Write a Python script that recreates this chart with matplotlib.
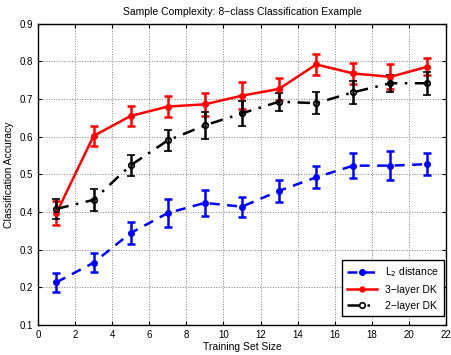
import numpy as np
import matplotlib
matplotlib.use("Agg")
import matplotlib.pyplot as plt
from matplotlib.lines import Line2D

train_size = [1, 3, 5, 7, 9, 11, 13, 15, 17, 19, 21]

l2_acc = [0.213, 0.265, 0.344, 0.397, 0.424, 0.414, 0.456, 0.492, 0.523, 0.523, 0.527]
l2_err = [0.026, 0.025, 0.028, 0.037, 0.035, 0.027, 0.030, 0.029, 0.033, 0.039, 0.029]

dk3_acc = [0.397, 0.602, 0.655, 0.680, 0.686, 0.709, 0.727, 0.792, 0.768, 0.759, 0.786]
dk3_err = [0.033, 0.026, 0.027, 0.027, 0.031, 0.035, 0.030, 0.029, 0.027, 0.033, 0.022]

dk2_acc = [0.408, 0.432, 0.524, 0.590, 0.630, 0.662, 0.693, 0.689, 0.718, 0.742, 0.742]
dk2_err = [0.027, 0.030, 0.028, 0.029, 0.035, 0.033, 0.024, 0.030, 0.030, 0.022, 0.031]

x_ticks = list(range(0, 23, 2))
y_ticks = [0.1, 0.2, 0.3, 0.4, 0.5, 0.6, 0.7, 0.8, 0.9]

plt.rcParams["font.family"] = ["Liberation Sans", "DejaVu Sans"]

fig = plt.figure(figsize=(4.51, 3.55), dpi=100)
ax = fig.add_axes([0.084, 0.085, 0.905, 0.848])

common = dict(lw=1.8, marker="o", ms=4, capsize=3, capthick=1.8, elinewidth=1.8)
ax.errorbar(train_size, l2_acc, yerr=l2_err, color="blue", ls="--",
            mfc="blue", dashes=(4, 3), **common)
ax.errorbar(train_size, dk3_acc, yerr=dk3_err, color="red", ls="-",
            mfc="red", **common)
ax.errorbar(train_size, dk2_acc, yerr=dk2_err, color="black", ls="-.",
            mfc="none", mew=1.2, dashes=(5, 3, 1, 3), **common)

ax.set_xlim(0, 22)
ax.set_ylim(0.1, 0.9)
ax.set_xticks(x_ticks)
ax.set_yticks(y_ticks)
ax.set_yticklabels([f"{v:.1f}" for v in y_ticks])
ax.tick_params(direction="in", top=True, right=True, labelsize=7, length=3)
ax.grid(True, ls=":", color="gray", lw=0.7)
for s in ax.spines.values():
    s.set_linewidth(1.0)

ax.set_title("Sample Complexity: 8\u2212class Classification Example", fontsize=7.5)
ax.set_xlabel("Training Set Size", fontsize=7.5, labelpad=2)
ax.set_ylabel("Classification Accuracy", fontsize=7.5, labelpad=4)

handles = [
    Line2D([], [], color="blue", lw=1.8, ls="--", dashes=(4, 3), marker="o", ms=4, mfc="blue"),
    Line2D([], [], color="red", lw=1.8, ls="-", marker="o", ms=3.5, mfc="red"),
    Line2D([], [], color="black", lw=1.8, ls="-.", dashes=(5, 3, 1, 3), marker="o", ms=4,
           mfc="none", mew=1.2),
]
labels = ["L$_2$ distance", "3\u2212layer DK", "2\u2212layer DK"]
leg = ax.legend(handles, labels, loc="lower right", bbox_to_anchor=(0.995, 0.03),
                borderaxespad=0, fontsize=7.5, fancybox=False, edgecolor="black",
                framealpha=1, handlelength=2.8, labelspacing=0.55, borderpad=0.5)
leg.get_frame().set_linewidth(1.0)

fig.savefig("out.png", dpi=100)
